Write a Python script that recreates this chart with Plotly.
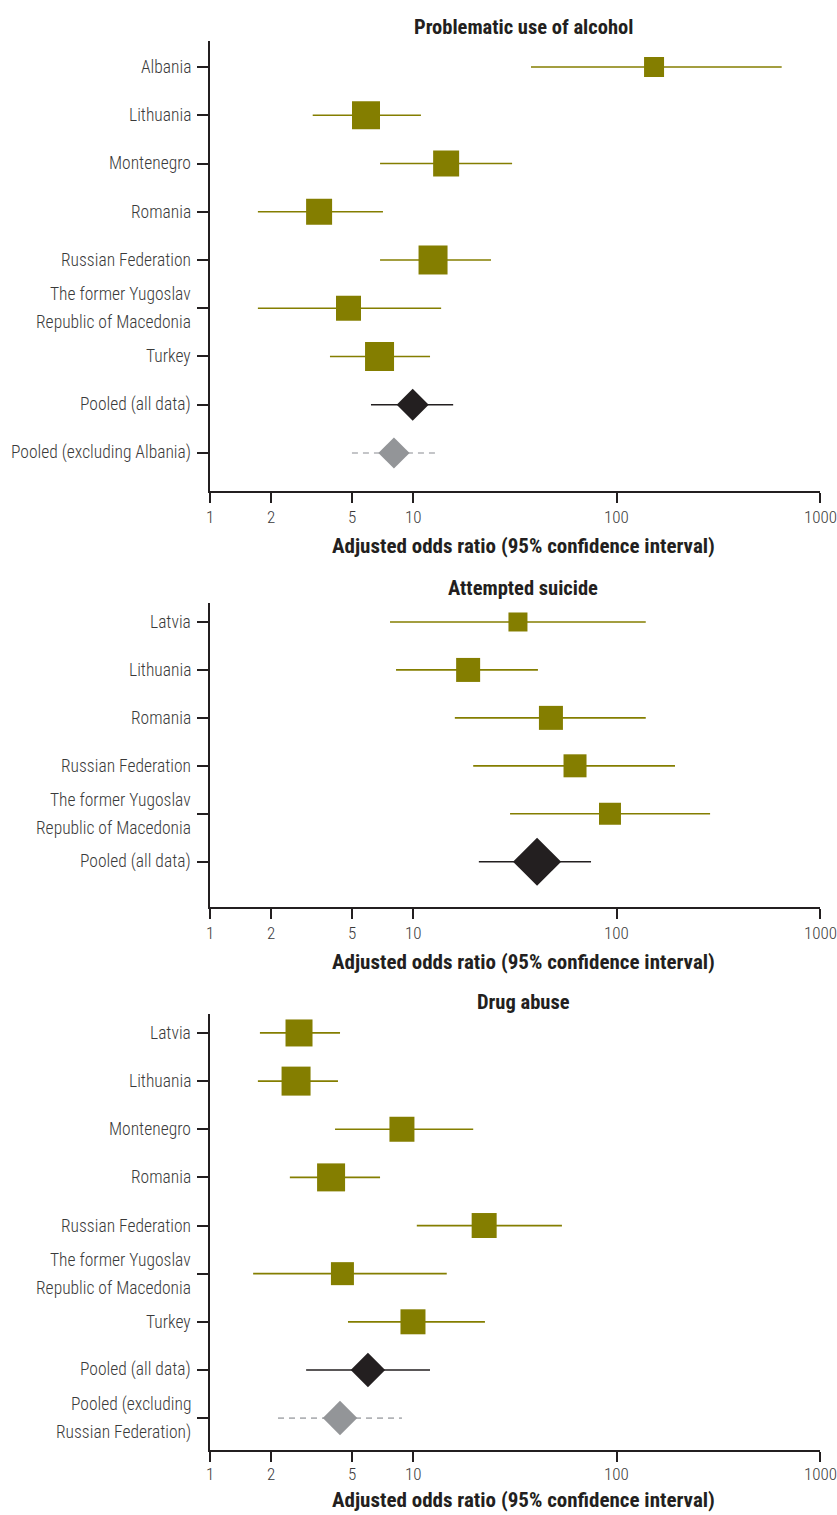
import math
import plotly.graph_objects as go

# ---------------- data ----------------
p1_title = "Problematic use of alcohol"
p1_labels = ["Albania", "Lithuania", "Montenegro", "Romania", "Russian Federation",
             "The former Yugoslav<br>Republic of Macedonia", "Turkey",
             "Pooled (all data)", "Pooled (excluding Albania)"]
p1_or = [152.7, 5.85, 14.5, 3.44, 12.5, 4.8, 6.82, 9.93, 8.03]
p1_lo = [37.9, 3.2, 6.86, 1.72, 6.86, 1.72, 3.89, 6.19, 4.99]
p1_hi = [648, 10.9, 30.6, 7.09, 24.1, 13.7, 12.08, 15.7, 12.9]
p1_kind = ["study"] * 7 + ["pooled", "pooled_excl"]
p1_size = [20, 28, 26, 26, 29, 25, 29, 24.6, 24]

p2_title = "Attempted suicide"
p2_labels = ["Latvia", "Lithuania", "Romania", "Russian Federation",
             "The former Yugoslav<br>Republic of Macedonia", "Pooled (all data)"]
p2_or = [32.7, 18.6, 47.5, 62.4, 92.7, 40.6]
p2_lo = [7.68, 8.22, 16.0, 19.7, 29.9, 21.0]
p2_hi = [139, 41, 139, 193.6, 288, 74.8]
p2_kind = ["study"] * 5 + ["pooled"]
p2_size = [19, 24, 24, 23, 22, 37]

p3_title = "Drug abuse"
p3_labels = ["Latvia", "Lithuania", "Montenegro", "Romania", "Russian Federation",
             "The former Yugoslav<br>Republic of Macedonia", "Turkey",
             "Pooled (all data)", "Pooled (excluding<br>Russian Federation)"]
p3_or = [2.74, 2.65, 8.79, 3.94, 22.3, 4.48, 9.96, 5.98, 4.36]
p3_lo = [1.76, 1.72, 4.12, 2.47, 10.4, 1.63, 4.77, 2.97, 2.16]
p3_hi = [4.36, 4.26, 19.7, 6.86, 53.8, 14.6, 22.5, 12.08, 8.79]
p3_kind = ["study"] * 7 + ["pooled", "pooled_excl"]
p3_size = [27, 29, 25, 28, 25, 23, 25, 26.5, 26.5]

x_ticks = [1, 2, 5, 10, 100, 1000]
x_title = "Adjusted odds ratio (95% confidence interval)"

# ---------------- styles ----------------
OLIVE = "#847E00"
BLACK = "#231F20"
GREY = "#939598"
DASHGREY = "#B1B3B6"
TXT = "#3a3a3a"
FONT = "Roboto Condensed, Liberation Sans Narrow, DejaVu Sans Condensed, Lato, sans-serif"
W, H = 837, 1515

panels = [
    dict(title=p1_title, labels=p1_labels, orv=p1_or, lo=p1_lo, hi=p1_hi, kind=p1_kind, size=p1_size,
         top=41, bottom=491, yrange=[8.788, -0.539], title_y=27, tick_y=517, xt_y=546),
    dict(title=p2_title, labels=p2_labels, orv=p2_or, lo=p2_lo, hi=p2_hi, kind=p2_kind, size=p2_size,
         top=603, bottom=907, yrange=[5.945, -0.396], title_y=588, tick_y=933, xt_y=962),
    dict(title=p3_title, labels=p3_labels, orv=p3_or, lo=p3_lo, hi=p3_hi, kind=p3_kind, size=p3_size,
         top=1014, bottom=1450, yrange=[8.663, -0.394], title_y=1002, tick_y=1474, xt_y=1500),
]

fig = go.Figure()
annotations = []
layout_axes = {}

line_style = {
    "study": dict(color=OLIVE, width=1.7),
    "pooled": dict(color=BLACK, width=1.4),
    "pooled_excl": dict(color=DASHGREY, width=1.6, dash="6px,5px"),
}
marker_style = {
    "study": dict(symbol="square", color=OLIVE),
    "pooled": dict(symbol="diamond", color=BLACK),
    "pooled_excl": dict(symbol="diamond", color=GREY),
}

for i, p in enumerate(panels):
    n = i + 1
    xa = "x" if n == 1 else f"x{n}"
    ya = "y" if n == 1 else f"y{n}"
    for kind in ["study", "pooled", "pooled_excl"]:
        xs, ys = [], []
        for j, k in enumerate(p["kind"]):
            if k == kind:
                xs += [p["lo"][j], p["hi"][j], None]
                ys += [j, j, None]
        if xs:
            fig.add_trace(go.Scatter(x=xs, y=ys, mode="lines", line=line_style[kind],
                                     xaxis=xa, yaxis=ya, hoverinfo="skip", showlegend=False))
    for kind in ["study", "pooled", "pooled_excl"]:
        idx = [j for j, k in enumerate(p["kind"]) if k == kind]
        if idx:
            fig.add_trace(go.Scatter(
                x=[p["orv"][j] for j in idx], y=idx, mode="markers",
                marker=dict(size=[p["size"][j] for j in idx], opacity=1, line=dict(width=0),
                            **marker_style[kind]),
                xaxis=xa, yaxis=ya, showlegend=False))

    ydom = [1 - p["bottom"] / H, 1 - p["top"] / H]
    xkey = "xaxis" if n == 1 else f"xaxis{n}"
    ykey = "yaxis" if n == 1 else f"yaxis{n}"
    layout_axes[xkey] = dict(
        type="log", range=[0, 3], domain=[210 / W, 820 / W], anchor=ya,
        tickvals=x_ticks, showticklabels=False,
        showline=True, linecolor=BLACK, linewidth=1.5, ticks="outside", ticklen=10,
        tickcolor=BLACK, tickwidth=1.5, showgrid=False, zeroline=False,
        fixedrange=True, automargin=False,
    )
    layout_axes[ykey] = dict(
        range=p["yrange"], domain=ydom, anchor=xa,
        tickvals=list(range(len(p["labels"]))), showticklabels=False,
        showline=True, linecolor=BLACK, linewidth=1.5, ticks="outside", ticklen=11,
        tickcolor=BLACK, tickwidth=1.5, showgrid=False, zeroline=False,
        fixedrange=True, automargin=False,
    )
    for j, lab in enumerate(p["labels"]):
        parts = lab.split("<br>")
        shifts = [0] if len(parts) == 1 else [14, -14]
        for part, sh in zip(parts, shifts):
            annotations.append(dict(x=193 / W, y=j, xref="paper", yref=ya, yshift=sh,
                                    text=part, showarrow=False, xanchor="right", yanchor="middle",
                                    font=dict(family=FONT, size=17.5, color=TXT, weight=300)))
    for t in x_ticks:
        annotations.append(dict(x=math.log10(t), y=1 - p["tick_y"] / H, xref=xa, yref="paper",
                                text=str(t), showarrow=False, xanchor="center", yanchor="middle",
                                font=dict(family=FONT, size=17, color=TXT, weight=300)))
    annotations.append(dict(x=523 / W, y=1 - p["title_y"] / H, xref="paper", yref="paper",
                            text=f"<b>{p['title']}</b>", showarrow=False, xanchor="center", yanchor="middle",
                            font=dict(family=FONT, size=20.5, color=BLACK)))
    annotations.append(dict(x=523 / W, y=1 - p["xt_y"] / H, xref="paper", yref="paper",
                            text=f"<b>{x_title}</b>", showarrow=False, xanchor="center", yanchor="middle",
                            font=dict(family=FONT, size=21, color=BLACK)))

fig.update_layout(
    width=W, height=H, margin=dict(l=0, r=0, t=0, b=0),
    plot_bgcolor="white", paper_bgcolor="white",
    annotations=annotations, showlegend=False, **layout_axes,
)

fig.write_html("out.html", config={"displayModeBar": False},
               post_script="document.body.style.margin='0px';")
